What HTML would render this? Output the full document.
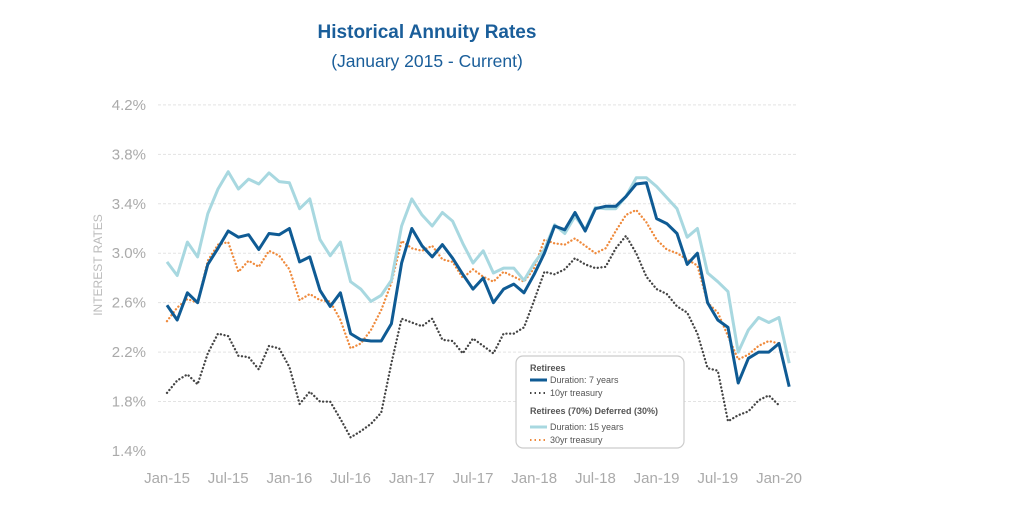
<!DOCTYPE html>
<html><head><meta charset="utf-8"><style>
html,body{margin:0;padding:0;background:#fff;}
svg{display:block;font-family:"Liberation Sans",sans-serif;}
</style></head><body>
<svg id="chart" width="1024" height="512" viewBox="0 0 1024 512">
<text x="427" y="38" text-anchor="middle" font-size="19" font-weight="bold" fill="#1a5e9a">Historical Annuity Rates</text>
<text x="427" y="67" text-anchor="middle" font-size="17.5" fill="#1a5e9a">(January 2015 - Current)</text>
<text transform="translate(102,265) rotate(-90)" text-anchor="middle" font-size="12" fill="#bbb">INTEREST RATES</text>
<g id="grid"></g>
<g id="yticks"></g>
<g id="xticks"></g>
<g id="series"></g>
<g>
<rect x="516" y="356" width="168" height="92" rx="7" fill="#fff" stroke="#ccc" stroke-width="1.2"/>
<text x="530" y="371" font-size="9" font-weight="bold" fill="#555">Retirees</text>
<line x1="530" y1="380" x2="547" y2="380" stroke="#0f5b94" stroke-width="3"/>
<text x="550" y="383" font-size="9" fill="#555">Duration: 7 years</text>
<line x1="530" y1="393" x2="547" y2="393" stroke="#444" stroke-width="2" stroke-dasharray="1.5,3"/>
<text x="550" y="396" font-size="9" fill="#555">10yr treasury</text>
<text x="530" y="414" font-size="9" font-weight="bold" fill="#555">Retirees (70%) Deferred (30%)</text>
<line x1="530" y1="427" x2="547" y2="427" stroke="#a8d8e0" stroke-width="3"/>
<text x="550" y="430" font-size="9" fill="#555">Duration: 15 years</text>
<line x1="530" y1="440" x2="547" y2="440" stroke="#ef8a3c" stroke-width="2" stroke-dasharray="1.5,3"/>
<text x="550" y="443" font-size="9" fill="#555">30yr treasury</text>
</g>
</svg>
<script>
const xLabels=["Jan-15","Jul-15","Jan-16","Jul-16","Jan-17","Jul-17","Jan-18","Jul-18","Jan-19","Jul-19","Jan-20"];
const yTicks=[1.4,1.8,2.2,2.6,3.0,3.4,3.8,4.2];
const dur7=[2.58,2.46,2.68,2.60,2.91,3.04,3.18,3.13,3.15,3.03,3.16,3.15,3.20,2.93,2.97,2.70,2.57,2.68,2.35,2.30,2.29,2.29,2.43,2.92,3.20,3.06,2.97,3.07,2.96,2.83,2.71,2.80,2.60,2.71,2.75,2.68,2.83,3.00,3.22,3.19,3.33,3.18,3.36,3.38,3.38,3.46,3.56,3.57,3.28,3.24,3.16,2.91,3.00,2.60,2.46,2.40,1.95,2.15,2.20,2.20,2.27,1.92];
const t10=[1.87,1.97,2.02,1.94,2.19,2.35,2.33,2.17,2.16,2.06,2.25,2.23,2.08,1.78,1.88,1.80,1.80,1.66,1.51,1.56,1.62,1.71,2.11,2.47,2.44,2.41,2.47,2.30,2.29,2.19,2.31,2.25,2.19,2.35,2.35,2.40,2.62,2.85,2.83,2.87,2.96,2.91,2.88,2.89,3.04,3.14,3.00,2.81,2.71,2.67,2.57,2.52,2.35,2.07,2.05,1.64,1.69,1.72,1.81,1.85,1.77,null];
const dur15=[2.93,2.82,3.09,2.97,3.32,3.52,3.66,3.52,3.60,3.56,3.65,3.58,3.57,3.36,3.44,3.11,2.98,3.09,2.77,2.71,2.61,2.66,2.78,3.22,3.44,3.31,3.22,3.33,3.26,3.08,2.92,3.02,2.84,2.88,2.88,2.78,2.92,3.03,3.23,3.16,3.30,3.19,3.37,3.36,3.36,3.46,3.61,3.61,3.54,3.45,3.36,3.13,3.20,2.84,2.77,2.69,2.20,2.38,2.48,2.44,2.48,2.11];
const t30=[2.45,2.56,2.63,2.60,2.94,3.07,3.09,2.85,2.94,2.89,3.02,2.98,2.87,2.62,2.67,2.62,2.61,2.46,2.23,2.27,2.38,2.54,2.76,3.10,3.04,3.02,3.06,2.95,2.93,2.80,2.87,2.81,2.77,2.85,2.81,2.77,2.88,3.11,3.08,3.07,3.12,3.06,3.00,3.04,3.18,3.31,3.35,3.25,3.11,3.03,3.00,2.95,2.90,2.60,2.52,2.33,2.14,2.18,2.25,2.29,2.27,null];
const NS="http://www.w3.org/2000/svg";
function xS(i){return 167+i*10.2;}
function yS(v){return 451-(v-1.4)*123.6;}
function mk(tag,attrs,parent){const e=document.createElementNS(NS,tag);for(const k in attrs)e.setAttribute(k,attrs[k]);parent.appendChild(e);return e;}
const grid=document.getElementById('grid'),yt=document.getElementById('yticks'),xt=document.getElementById('xticks'),sg=document.getElementById('series');
yTicks.forEach(v=>{
 if(v>1.41){const l=mk('line',{x1:158,x2:796,y1:yS(v),y2:yS(v),stroke:'#e3e3e3','stroke-width':1,'stroke-dasharray':'3,2'},grid);
 
 }
 const t=mk('text',{x:146,y:yS(v)+5,'text-anchor':'end','font-size':15,fill:'#aaa'},yt);
 t.textContent=v.toFixed(1)+'%';
 
 
});
xLabels.forEach((s,i)=>{
 const t=mk('text',{x:xS(i*6),y:483,'text-anchor':'middle','font-size':15,fill:'#aaa'},xt);
 t.textContent=s;
 
 
});
function draw(arr,color,w,dash,name){
 const pts=[];arr.forEach((v,i)=>{if(v!==null)pts.push(xS(i).toFixed(1)+','+yS(v).toFixed(1));});
 const a={points:pts.join(' '),fill:'none',stroke:color,'stroke-width':w,'stroke-linejoin':'round'};
 if(dash){a['stroke-dasharray']=dash;a['stroke-linecap']='round';}
 const p=mk('polyline',a,sg);
 
 
}
draw(t10,'#444',2.3,'0.1,3.6','line-10yr-treasury');
draw(t30,'#ef8a3c',2.3,'0.1,3.6','line-30yr-treasury');
draw(dur15,'#a8d8e0',3,null,'line-duration-15yr');
draw(dur7,'#0f5b94',3,null,'line-duration-7yr');
</script>
</body></html>
